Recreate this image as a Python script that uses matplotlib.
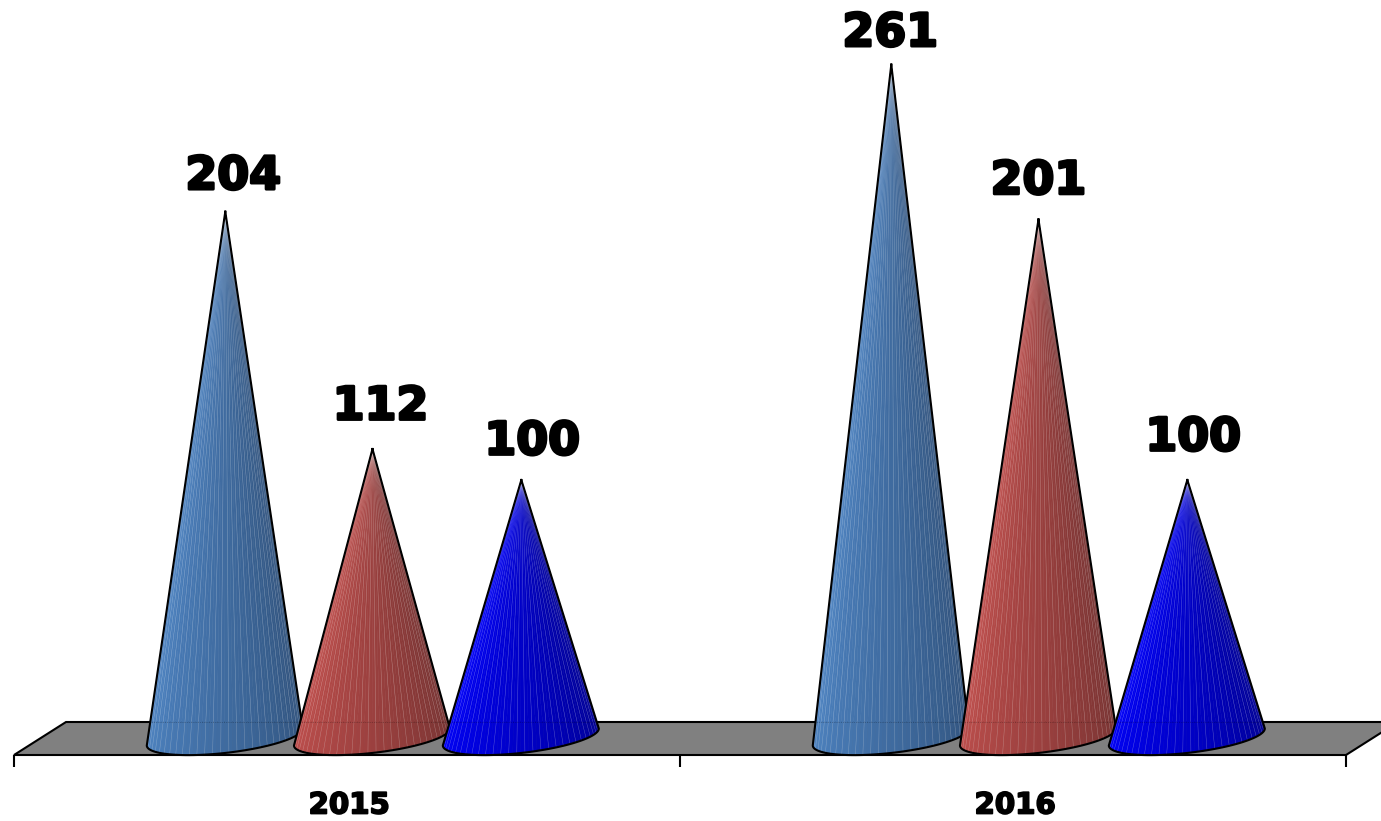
#!/usr/bin/env python
# -*- coding: utf-8 -*-
import numpy as np
import matplotlib
matplotlib.use("Agg")
import matplotlib.pyplot as plt
import matplotlib.patheffects as pe
from matplotlib.colors import to_rgb

years = ["2015", "2016"]
series_a = [204, 261]
series_b = [112, 201]
series_c = [100, 100]

# cone position inside a year slot
slot_offsets = [0.3165, 0.5375, 0.761]
left_colors = ["#4f86c6", "#c4504e", "#0000ff"]
right_colors = ["#2f5079", "#733130", "#000090"]

# label nudges in pixels, per year then per series
label_dx = [[8, 8, 11], [-1, 0, 6]]
label_dy = [[35, 42, 38], [31, 38, 42]]

px_w = 666.0    # pixels per year slot
px_h = 2.58     # pixels per value unit


def draw_cone(ax, x, h, c0, c1, z):
    half = 78.0 / px_w
    depth = 16.0 / px_h
    skew = 8.5 / px_h
    tip = x + 0.5 / px_w

    t = np.linspace(np.pi, 2 * np.pi, 61)
    bx = x + half * np.cos(t)
    by = 1.0 / px_h + depth * np.sin(t) + skew * np.cos(t)

    c0 = np.array(to_rgb(c0))
    c1 = np.array(to_rgb(c1))
    for i in range(len(t) - 1):
        f = i / (len(t) - 2)
        col = tuple(c0 + (c1 - c0) * f)
        # edge in the same colour closes the seams between the facets
        ax.fill([tip, bx[i], bx[i + 1]], [h, by[i], by[i + 1]],
                fc=col, ec=col, lw=0.4, zorder=z)

    # pale facet streaks
    for i in range(1, len(t) - 1, 2):
        ax.plot([tip, bx[i]], [h, by[i]], c='w', lw=0.35, alpha=0.3, zorder=z + 0.1)

    # floor back edge shows through faintly
    yb = 16 / px_h
    xl = np.interp(yb, [by[0], h], [bx[0], tip])
    xr = np.interp(yb, [by[-1], h], [bx[-1], tip])
    ax.plot([xl, xr], [yb, yb], c='k', lw=0.5, ls=':', alpha=0.4, zorder=z + 0.2)

    ax.plot(np.r_[tip, bx, tip], np.r_[h, by, h], c='k', lw=1.5, zorder=z + 0.5,
            solid_joinstyle='round')


def main():
    fig = plt.figure(figsize=(13.81, 8.21), dpi=100)
    ax = fig.add_axes([0, 0, 1, 1])
    ax.set_xlim(-14 / px_w, 1367 / px_w)
    ax.set_ylim(-83 / px_h, 738 / px_h)
    ax.axis('off')

    # floor of the 3d chart
    back = 52 / px_w
    ax.fill([0, back, 2 + back, 2], [-17 / px_h, 16 / px_h, 16 / px_h, -17 / px_h],
            fc='#808080', ec='k', lw=1.5, zorder=1)
    ax.vlines([0, 1, 2], -29 / px_h, -17 / px_h, color='k', lw=1.5, zorder=1)

    # the original face is much heavier than DejaVu Bold
    heavy = [pe.withStroke(linewidth=1.3, foreground='k')]

    values = [series_a, series_b, series_c]
    z = 2
    for g, year in enumerate(years):
        ax.text(g + 0.5 + 2 / px_w, -67.5 / px_h, year, ha='center', va='center', fontsize=21,
                family='DejaVu Sans', weight='bold', path_effects=heavy)
        for s in range(3):
            x = g + slot_offsets[s]
            v = values[s][g]
            draw_cone(ax, x, v, left_colors[s], right_colors[s], z)
            z += 1
            ax.annotate(str(v), (x + 0.5 / px_w, v),
                        xytext=(label_dx[g][s], label_dy[g][s]),
                        textcoords='offset pixels', ha='center', va='center',
                        fontsize=33, family='DejaVu Sans', weight='bold', zorder=20,
                        path_effects=[pe.withStroke(linewidth=2, foreground='k')])

    fig.savefig('out.png', dpi=100)


if __name__ == "__main__":
    main()
